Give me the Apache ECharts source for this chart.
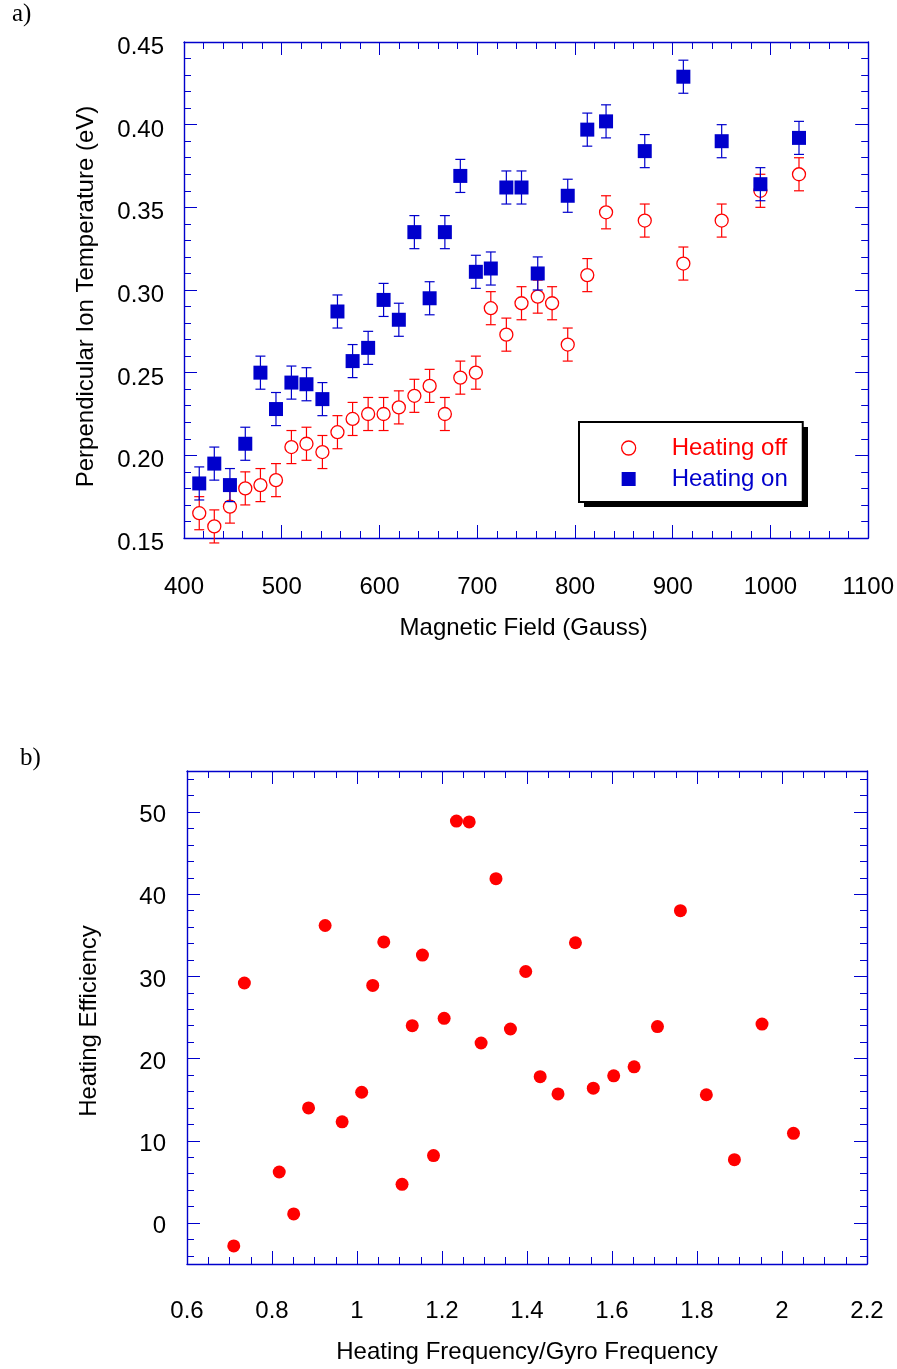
<!DOCTYPE html>
<html>
<head>
<meta charset="utf-8">
<script src="https://cdn.jsdelivr.net/npm/echarts@6/dist/echarts.min.js"></script>
<style>
html,body{margin:0;padding:0;background:#fff;}
#c{width:897px;height:1369px;}
</style>
</head>
<body>
<div id="c"></div>
<script>
// ---------- Panel a) data ----------
const fieldOff = [415.6,431.0,447.0,462.7,478.2,494.1,509.9,525.3,541.6,557.0,572.5,588.4,604.2,619.8,635.7,651.3,666.9,682.7,698.6,713.9,729.8,745.3,761.9,776.6,792.6,812.6,831.8,871.4,910.9,950.1,989.7,1029.2];
const tempOff  = [0.165,0.157,0.169,0.180,0.182,0.185,0.205,0.207,0.202,0.214,0.222,0.225,0.225,0.229,0.236,0.242,0.225,0.247,0.250,0.289,0.273,0.292,0.296,0.292,0.267,0.309,0.347,0.342,0.316,0.342,0.360,0.370];
const errOff   = [0.01,0.01,0.01,0.01,0.01,0.01,0.01,0.01,0.01,0.01,0.01,0.01,0.01,0.01,0.01,0.01,0.01,0.01,0.01,0.01,0.01,0.01,0.01,0.01,0.01,0.01,0.01,0.01,0.01,0.01,0.01,0.01];

const fieldOn  = [415.6,431.0,447.0,462.7,478.2,494.1,509.9,525.3,541.6,557.0,572.5,588.4,604.2,619.8,635.7,651.3,666.9,682.7,698.6,713.9,729.8,745.3,761.9,792.6,812.6,831.8,871.4,910.9,950.1,989.7,1029.2];
const tempOn   = [0.183,0.195,0.182,0.207,0.250,0.228,0.244,0.243,0.234,0.287,0.257,0.265,0.294,0.282,0.335,0.295,0.335,0.369,0.311,0.313,0.362,0.362,0.310,0.357,0.397,0.402,0.384,0.429,0.390,0.364,0.392];
const errOn    = [0.01,0.01,0.01,0.01,0.01,0.01,0.01,0.01,0.01,0.01,0.01,0.01,0.01,0.01,0.01,0.01,0.01,0.01,0.01,0.01,0.01,0.01,0.01,0.01,0.01,0.01,0.01,0.01,0.01,0.01,0.01];

const seriesNames = ['Heating off', 'Heating on'];

// ---------- Panel b) data ----------
const freqRatio  = [0.710,0.735,0.817,0.851,0.886,0.925,0.965,1.011,1.037,1.063,1.106,1.130,1.154,1.180,1.205,1.234,1.264,1.292,1.327,1.361,1.397,1.431,1.473,1.514,1.556,1.604,1.652,1.707,1.761,1.822,1.888,1.953,2.027];
const efficiency = [-2.8,29.2,6.2,1.1,14.0,36.2,12.3,15.9,28.9,34.2,4.7,24.0,32.6,8.2,24.9,48.9,48.8,21.9,41.9,23.6,30.6,17.8,15.7,34.1,16.4,17.9,19.0,23.9,38.0,15.6,7.7,24.2,10.9];

// ---------- Tick labels ----------
const effYTicks = [0, 10, 20, 30, 40, 50];
const effYMinorTicks = [];
for (let v = -4; v <= 54; v += 2) { if (v % 10 !== 0) effYMinorTicks.push(v); }

// ---------- Styles ----------
const AX = '#0000cc';
const RED = '#ff0000';
const FONT = 'Liberation Sans';
const LBL = {fontSize: 24, color: '#000', fontFamily: FONT};

function zip3(a, b, c) { return a.map((v, i) => [v, b[i], c[i]]); }

function errRender(color) {
  return function (params, api) {
    const x = api.value(0), y = api.value(1), e = api.value(2);
    const hi = api.coord([x, y + e]);
    const lo = api.coord([x, y - e]);
    const cap = 5;
    const st = {stroke: color, lineWidth: 1.2, fill: null};
    return {
      type: 'group',
      children: [
        {type: 'line', shape: {x1: hi[0], y1: hi[1], x2: lo[0], y2: lo[1]}, style: st},
        {type: 'line', shape: {x1: hi[0] - cap, y1: hi[1], x2: hi[0] + cap, y2: hi[1]}, style: st},
        {type: 'line', shape: {x1: lo[0] - cap, y1: lo[1], x2: lo[0] + cap, y2: lo[1]}, style: st}
      ]
    };
  };
}

function valAxis(o) {
  const base = {
    type: 'value',
    axisLine: {show: true, onZero: false, lineStyle: {color: AX, width: 1.4}},
    axisTick: {show: true, inside: true, length: 13, lineStyle: {color: AX, width: 1}},
    minorTick: {show: false},
    splitLine: {show: false},
    axisLabel: {show: false}
  };
  return Object.assign(base, o);
}

const chart = echarts.init(document.getElementById('c'), null, {renderer: 'canvas'});

const option = {
  animation: false,
  backgroundColor: '#fff',
  textStyle: {fontFamily: FONT},
  title: [
    {text: 'a)', left: 12, top: 2, padding: 0,
     textStyle: {fontFamily: 'Liberation Serif', fontSize: 25, fontWeight: 'normal', color: '#000'}},
    {text: 'b)', left: 20, top: 746, padding: 0,
     textStyle: {fontFamily: 'Liberation Serif', fontSize: 25, fontWeight: 'normal', color: '#000'}}
  ],
  graphic: [
    // hard drop shadow behind the legend box
    {type: 'rect', x: 584, y: 427, z: 1, silent: true,
     shape: {x: 0, y: 0, width: 224, height: 80}, style: {fill: '#000'}}
  ],
  grid: [
    {left: 184, top: 42, width: 685, height: 496},
    {left: 187, top: 771, width: 680, height: 493}
  ],
  legend: {
    orient: 'vertical',
    left: 579, top: 422,
    padding: [14, 15, 11, 42],
    itemGap: 7,
    itemWidth: 76, itemHeight: 14,
    z: 10,
    backgroundColor: '#fff',
    borderColor: '#000', borderWidth: 2,
    textStyle: {fontSize: 24, fontFamily: FONT},
    data: [
      {name: seriesNames[0], textStyle: {color: RED},
       itemStyle: {color: '#fff', borderColor: RED, borderWidth: 1.3}},
      {name: seriesNames[1], textStyle: {color: AX}, icon: 'path://M0 0H10V10H0Z',
       itemStyle: {color: AX, borderWidth: 0}}
    ]
  },
  xAxis: [
    valAxis({gridIndex: 0, position: 'bottom', min: 400, max: 1100, interval: 100,
      minorTick: {show: true, splitNumber: 5, length: 7, lineStyle: {color: AX, width: 1}},
      axisLabel: Object.assign({show: true, margin: 37, formatter: v => String(v)}, LBL),
      name: 'Magnetic Field (Gauss)', nameLocation: 'middle', nameGap: 78,
      nameTextStyle: Object.assign({padding: [0, 5, 0, 0]}, LBL)}),
    valAxis({gridIndex: 0, position: 'top', min: 400, max: 1100, interval: 100,
      minorTick: {show: true, splitNumber: 5, length: 7, lineStyle: {color: AX, width: 1}}}),
    valAxis({gridIndex: 1, position: 'bottom', min: 0.6, max: 2.2, interval: 0.2,
      minorTick: {show: true, splitNumber: 4, length: 7, lineStyle: {color: AX, width: 1}},
      axisLabel: Object.assign({show: true, margin: 35}, LBL),
      name: 'Heating Frequency/Gyro Frequency', nameLocation: 'middle', nameGap: 76, nameTextStyle: LBL}),
    valAxis({gridIndex: 1, position: 'top', min: 0.6, max: 2.2, interval: 0.2,
      minorTick: {show: true, splitNumber: 4, length: 7, lineStyle: {color: AX, width: 1}}})
  ],
  yAxis: [
    valAxis({gridIndex: 0, position: 'left', min: 0.15, max: 0.45, interval: 0.05,
      minorTick: {show: true, splitNumber: 5, length: 7, lineStyle: {color: AX, width: 1}},
      axisLabel: Object.assign({show: true, margin: 20, verticalAlign: 'top', lineHeight: 11,
        formatter: v => v.toFixed(2)}, LBL),
      name: 'Perpendicular Ion Temperature (eV)', nameLocation: 'middle', nameGap: 86,
      nameTextStyle: Object.assign({padding: [0, 13, 0, 0]}, LBL)}),
    valAxis({gridIndex: 0, position: 'right', min: 0.15, max: 0.45, interval: 0.05,
      minorTick: {show: true, splitNumber: 5, length: 7, lineStyle: {color: AX, width: 1}}}),
    valAxis({gridIndex: 1, position: 'left', min: -5, max: 55,
      axisTick: {show: true, inside: true, length: 13, customValues: effYTicks, lineStyle: {color: AX, width: 1}},
      axisLabel: Object.assign({show: true, margin: 21, verticalAlign: 'top', lineHeight: 7,
        customValues: effYTicks}, LBL),
      name: 'Heating Efficiency', nameLocation: 'middle', nameGap: 86,
      nameTextStyle: Object.assign({padding: [0, 7, 0, 0]}, LBL)}),
    valAxis({gridIndex: 1, position: 'left', min: -5, max: 55,
      axisLine: {show: false, onZero: false},
      axisTick: {show: true, inside: true, length: 7, customValues: effYMinorTicks, lineStyle: {color: AX, width: 1}}}),
    valAxis({gridIndex: 1, position: 'right', min: -5, max: 55,
      axisTick: {show: true, inside: true, length: 13, customValues: effYTicks, lineStyle: {color: AX, width: 1}}}),
    valAxis({gridIndex: 1, position: 'right', min: -5, max: 55,
      axisLine: {show: false, onZero: false},
      axisTick: {show: true, inside: true, length: 7, customValues: effYMinorTicks, lineStyle: {color: AX, width: 1}}})
  ],
  series: [
    {type: 'custom', name: 'errOff', xAxisIndex: 0, yAxisIndex: 0,
     renderItem: errRender(RED), data: zip3(fieldOff, tempOff, errOff), encode: {x: 0, y: 1}, z: 2, silent: true},
    {type: 'scatter', name: seriesNames[0], xAxisIndex: 0, yAxisIndex: 0,
     data: fieldOff.map((v, i) => [v, tempOff[i]]), symbol: 'circle', symbolSize: 13,
     itemStyle: {color: '#fff', borderColor: RED, borderWidth: 1.3, opacity: 1}, z: 3},
    {type: 'custom', name: 'errOn', xAxisIndex: 0, yAxisIndex: 0,
     renderItem: errRender(AX), data: zip3(fieldOn, tempOn, errOn), encode: {x: 0, y: 1}, z: 4, silent: true},
    {type: 'scatter', name: seriesNames[1], xAxisIndex: 0, yAxisIndex: 0,
     data: fieldOn.map((v, i) => [v, tempOn[i]]), symbol: 'rect', symbolSize: 14,
     itemStyle: {color: AX, opacity: 1}, z: 5},
    {type: 'scatter', name: 'Efficiency', xAxisIndex: 2, yAxisIndex: 2,
     data: freqRatio.map((v, i) => [v, efficiency[i]]), symbol: 'circle', symbolSize: 13,
     itemStyle: {color: RED, opacity: 1}, z: 3}
  ]
};

chart.setOption(option);
</script>
</body>
</html>
